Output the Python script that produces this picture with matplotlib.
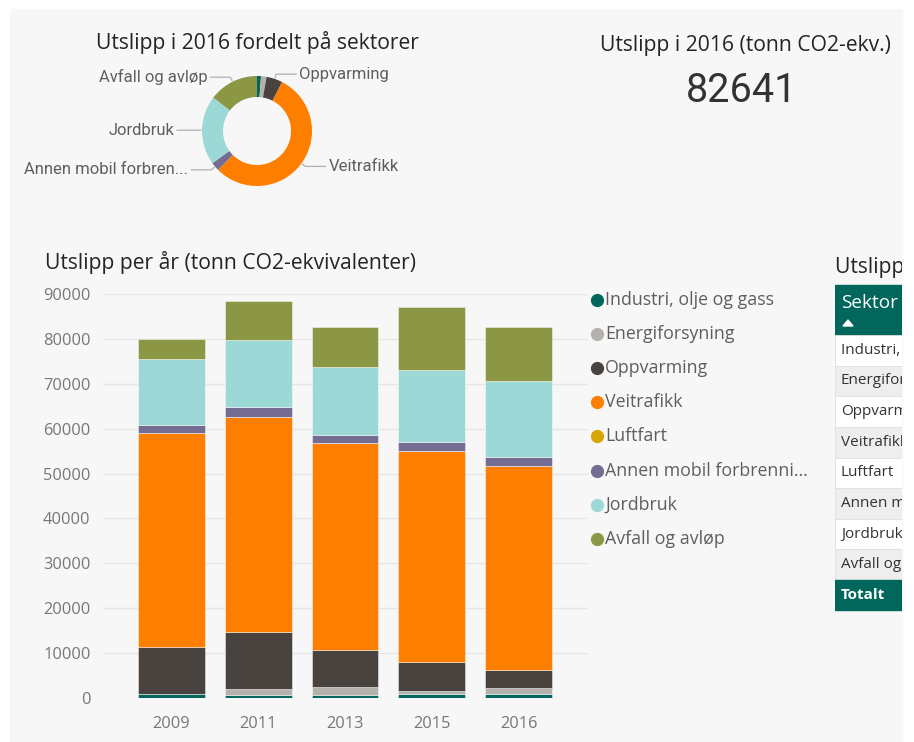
import matplotlib
matplotlib.use("Agg")
import numpy as np
import matplotlib.pyplot as plt
from matplotlib.patches import Rectangle, Polygon

# --- data ---
years = ["2009", "2011", "2013", "2015", "2016"]
sectors = ["Industri, olje og gass", "Energiforsyning", "Oppvarming", "Veitrafikk",
           "Luftfart", "Annen mobil forbrenning", "Jordbruk", "Avfall og avløp"]
industri = [900, 740, 740, 970, 970]
energi = [0, 1190, 1700, 670, 1340]
oppvarming = [10400, 12770, 8260, 6310, 3931]
veitrafikk = [47670, 47900, 46110, 47080, 45450]
luftfart = [0, 0, 0, 0, 0]
annen_mobil = [1930, 2230, 1780, 1930, 2070]
jordbruk = [14600, 15000, 15220, 16180, 16800]
avfall = [4500, 8620, 8780, 14040, 12080]
total_2016 = 82641
table_rows = ["Industri, olje og gass", "Energiforsyning", "Oppvarming", "Veitrafikk",
              "Luftfart", "Annen mobil forbrenning", "Jordbruk", "Avfall og avløp"]
donut_labels = {"Oppvarming": "Oppvarming", "Veitrafikk": "Veitrafikk",
                "Annen mobil forbrenning": "Annen mobil forbren...",
                "Jordbruk": "Jordbruk", "Avfall og avløp": "Avfall og avløp"}

colors = ["#01675c", "#b5b2ae", "#48433f", "#fe7f00", "#d9a400", "#746c91", "#9cd8d5", "#8b9744"]
series = [industri, energi, oppvarming, veitrafikk, luftfart, annen_mobil, jordbruk, avfall]

W, H = 914, 742
fig = plt.figure(figsize=(W / 100, H / 100), dpi=100)
fig.patch.set_facecolor("white")

def px_axes(x0, y0, x1, y1, **kw):
    return fig.add_axes([x0 / W, 1 - y1 / H, (x1 - x0) / W, (y1 - y0) / H], **kw)

# overlay with pixel coordinates (panel background + texts)
ov = px_axes(0, 0, W, H, zorder=-5)
ov.set_xlim(0, W)
ov.set_ylim(H, 0)
ov.axis("off")
ov.add_patch(Rectangle((10, 9), 892, 740, color="#f7f7f7", zorder=0))

title_font = dict(family=["Open Sans", "DejaVu Sans"], color="#252423")
TITLE_FS = 15.2

# --- donut ---
ov.text(257, 43, "Utslipp i 2016 fordelt på sektorer", ha="center", va="center",
        fontsize=TITLE_FS, **title_font)
dax = px_axes(157, 31, 357, 231)
vals16 = [s[-1] for s in series]
R = 0.55
wedges, _ = dax.pie(vals16, colors=colors, radius=R, startangle=90, counterclock=False,
                    wedgeprops=dict(width=0.21, linewidth=0))
dax.set_xlim(-1, 1)
dax.set_ylim(-1, 1)
dax.set_aspect("equal")
dax.axis("off")
for w, name in zip(wedges, sectors):
    if name not in donut_labels:
        continue
    ang = np.deg2rad((w.theta1 + w.theta2) / 2)
    p0 = np.array([np.cos(ang), np.sin(ang)]) * R
    p1 = np.array([np.cos(ang), np.sin(ang)]) * (R + 0.05)
    side = 1 if p1[0] > 0 else -1
    p2 = p1 + np.array([side * 0.2, 0])
    dax.plot([p0[0] * 1.02, p1[0], p2[0]], [p0[1] * 1.02, p1[1], p2[1]],
             color="#b0b0b0", lw=0.9, clip_on=False)
    dax.text(p2[0] + side * 0.03, p2[1], donut_labels[name], ha="left" if side > 0 else "right",
             va="center", fontsize=12, color="#605e5c",
             family=["Roboto", "DejaVu Sans"], clip_on=False)

# --- card ---
ov.text(745, 45, "Utslipp i 2016 (tonn CO2-ekv.)", ha="center", va="center",
        fontsize=TITLE_FS, **title_font)
ov.text(742, 91, str(total_2016), ha="center", va="center", fontsize=28.5,
        color="#333333", family=["Roboto", "DejaVu Sans"])

# --- stacked bars ---
ov.text(45, 263, "Utslipp per år (tonn CO2-ekvivalenter)", ha="left", va="center",
        fontsize=TITLE_FS, **title_font)
ax = px_axes(103, 294, 588, 698)
ax.patch.set_alpha(0)
x = np.arange(len(years))
bottom = np.zeros(len(years))
for vals, c in zip(series, colors):
    ax.bar(x, vals, bottom=bottom, width=0.77, color=c,
           edgecolor=(1, 1, 1, 0.45), linewidth=0.7, zorder=3)
    bottom += np.array(vals)
ax.set_xlim(-0.787, 4.8)
ax.set_ylim(0, 90000)
ax.set_yticks(np.arange(0, 90001, 10000))
ax.set_xticks(x)
ax.set_xticklabels(years)
ax.grid(axis="y", color="#e6e6e6", lw=1, zorder=0)
for s in ax.spines.values():
    s.set_visible(False)
ax.tick_params(axis="both", length=0, colors="#777777", labelsize=11.8)
ax.tick_params(axis="y", pad=9)
ax.tick_params(axis="x", pad=13)
for lab in ax.get_xticklabels() + ax.get_yticklabels():
    lab.set_family(["Open Sans", "DejaVu Sans"])

# legend
for i, (name, c) in enumerate(zip(sectors, colors)):
    yy = 300 + i * 34.1
    label = "Annen mobil forbrenni..." if name == "Annen mobil forbrenning" else name
    ov.plot([597], [yy], "o", ms=8.5, color=c)
    ov.text(605, yy, label, ha="left", va="center", fontsize=12.8, color="#605e5c",
            family=["Open Sans", "DejaVu Sans"])

# --- table (cut off at panel edge, as in the dashboard) ---
tax = px_axes(835, 250, 902, 612)
tax.set_xlim(835, 902)
tax.set_ylim(612, 250)
tax.axis("off")
tax.text(835, 267, "Utslipp per sektor", ha="left", va="center", fontsize=TITLE_FS,
         clip_on=True, **title_font)
teal = "#01675c"
tax.add_patch(Rectangle((835, 285), 80, 50, color=teal))
tax.text(841, 303, "Sektor", ha="left", va="center", fontsize=13.7, color="white",
         family=["Open Sans", "DejaVu Sans"], clip_on=True)
tax.add_patch(Polygon([[843, 326], [853, 326], [848, 320]], color="white"))
row_h = (580 - 335) / len(table_rows)
for i, name in enumerate(table_rows):
    y0 = 335 + i * row_h
    tax.add_patch(Rectangle((835, y0), 80, row_h, facecolor="white" if i % 2 == 0 else "#eeeeee",
                            edgecolor="#e0e0e0", lw=0.6))
    tax.text(841, y0 + row_h / 2, name, ha="left", va="center", fontsize=11,
             color="#333333", family=["Open Sans", "DejaVu Sans"], clip_on=True)
tax.add_patch(Rectangle((835, 580), 80, 30, color=teal))
tax.text(841, 595, "Totalt", ha="left", va="center", fontsize=11, color="white",
         weight="bold", family=["Open Sans", "DejaVu Sans"], clip_on=True)

fig.savefig("out.png", dpi=100)
